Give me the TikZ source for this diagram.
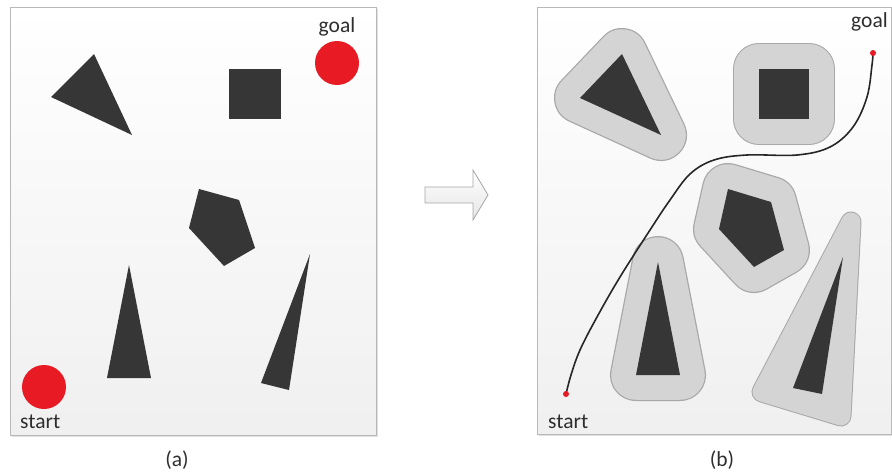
\documentclass[tikz,border=0pt]{standalone}
\usepackage{fontspec}
\setmainfont{Carlito}
\begin{document}
\begin{tikzpicture}[x=1pt,y=-1pt]
\definecolor{obst}{HTML}{363636}
\definecolor{halo}{HTML}{D4D4D4}
\definecolor{haloline}{HTML}{A8A8A8}
\definecolor{goalred}{HTML}{E81A24}
\definecolor{framecol}{HTML}{B8B8B8}
\definecolor{txt}{HTML}{2E2E2E}
\tikzset{
  panel/.style={draw=framecol, line width=0.9, top color=white, bottom color=black!6},
  panelshadow/.style={fill=black!12},
  obstacle/.style={fill=obst},
  haloout/.style={draw=haloline, line width=52, line join=round, fill=haloline},
  haloin/.style={draw=halo, line width=49.5, line join=round, fill=halo},
  lbl/.style={font=\fontsize{21.5}{25}\selectfont, text=txt, inner sep=0},
  bigdot/.style={circle, fill=goalred, inner sep=0, minimum size=44},
  smalldot/.style={circle, fill=goalred, inner sep=0, minimum size=6},
  path/.style={line width=1.6, draw=black!85, line cap=round}
}
\useasboundingbox (0,0) rectangle (892,474);

% ---------- panel (a)
\fill[panelshadow] (11.5,8.5) rectangle (377.5,436.5);
\path[panel] (10,7) rectangle (376,435);
\fill[obstacle] (94,54) -- (51,97) -- (132,135) -- cycle;
\fill[obstacle] (229,69) rectangle (281,119);
\fill[obstacle] (199,189) -- (239,200) -- (255,248) -- (224,266) -- (189,228) -- cycle;
\fill[obstacle] (129,265) -- (151,378) -- (107,378) -- cycle;
\fill[obstacle] (310,254) -- (289,390) -- (261,383) -- cycle;
\node[bigdot] (goalA) at (337,63) {};
\node[bigdot] (startA) at (44,387) {};
\node[lbl, anchor=base] (goalAlbl) at (337,32) {goal};
\node[lbl, anchor=base west] (startAlbl) at (20,428) {start};
\node[lbl, anchor=base] (capA) at (177,466) {(a)};

% ---------- arrow
\draw[draw=black!35, line width=0.8, top color=white, bottom color=black!10]
  (425,187) -- (473,187) -- (473,170) -- (488,195) -- (473,220) -- (473,203) -- (425,203) -- cycle;

% ---------- panel (b)
\fill[panelshadow] (538.5,8.5) rectangle (892,435.5);
\path[panel] (537,7) rectangle (891.5,434);
% halos
\path[haloout] (622,54) -- (580,98) -- (661,135) -- cycle;
\path[haloin]  (622,54) -- (580,98) -- (661,135) -- cycle;
\path[haloout] (759,69) rectangle (809,119);
\path[haloin]  (759,69) rectangle (809,119);
\path[haloout] (728,189) -- (771,202) -- (784,250) -- (754,267) -- (719,229) -- cycle;
\path[haloin]  (728,189) -- (771,202) -- (784,250) -- (754,267) -- (719,229) -- cycle;
\path[haloout] (658,262) -- (680,375) -- (636,375) -- cycle;
\path[haloin]  (658,262) -- (680,375) -- (636,375) -- cycle;
\path[haloout, line width=21] (851,222) -- (841,416) -- (762,392) -- cycle;
\path[haloin, line width=19]  (851,222) -- (841,416) -- (762,392) -- cycle;
% obstacles
\fill[obstacle] (622,54) -- (580,98) -- (661,135) -- cycle;
\fill[obstacle] (759,69) rectangle (809,119);
\fill[obstacle] (728,189) -- (771,202) -- (784,250) -- (754,267) -- (719,229) -- cycle;
\fill[obstacle] (658,262) -- (680,375) -- (636,375) -- cycle;
\fill[obstacle] (843,257) -- (822,394) -- (793,388) -- cycle;
% path
\coordinate (s) at (566,394);
\coordinate (g) at (873,53);
\draw[path] plot[smooth, tension=0.6] coordinates {(s) (571,375) (580,350) (597,317) (620,277) (650,230) (670,200) (690,174) (714,160) (747,155) (797,155) (830,147) (853,127) (867,97) (872,65) (g)};
\node[smalldot] (startB) at (s) {};
\node[smalldot] (goalB) at (g) {};
\node[lbl, anchor=base west] (goalBlbl) at (851,27) {goal};
\node[lbl, anchor=base west] (startBlbl) at (548,428) {start};
\node[lbl, anchor=base] (capB) at (722,466) {(b)};
\end{tikzpicture}
\end{document}
